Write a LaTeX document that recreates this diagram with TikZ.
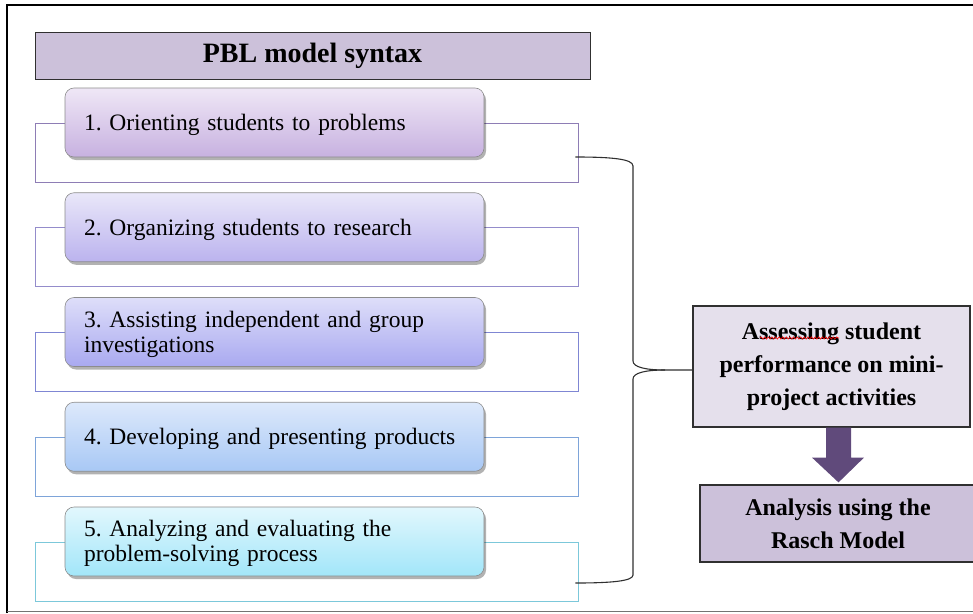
\documentclass[tikz,border=0pt]{standalone}
\usepackage{fontspec}
\setmainfont{Liberation Serif}
\usetikzlibrary{shadows,decorations.pathmorphing,calc}

% palette
\definecolor{titlefill}{HTML}{CCC1DA}
\definecolor{assessfill}{HTML}{E5E0EC}
\definecolor{arrowfill}{HTML}{604A7B}
\definecolor{edgedark}{HTML}{303030}
\definecolor{sAtop}{HTML}{EFE7F6}\definecolor{sAbot}{HTML}{C7B1E0}
\definecolor{sBtop}{HTML}{E9E7F9}\definecolor{sBbot}{HTML}{BBB3EE}
\definecolor{sCtop}{HTML}{DEDEF9}\definecolor{sCbot}{HTML}{A9A9F0}
\definecolor{sDtop}{HTML}{DDE9FB}\definecolor{sDbot}{HTML}{A8C8F5}
\definecolor{sEtop}{HTML}{E2F7FD}\definecolor{sEbot}{HTML}{A2E6F9}
\definecolor{rA}{HTML}{8E7DB5}
\definecolor{rB}{HTML}{948CCB}
\definecolor{rC}{HTML}{7F86D3}
\definecolor{rD}{HTML}{7EA4D9}
\definecolor{rE}{HTML}{7CC8DA}

% invisible strut that lowers the first line of a step a little
\newcommand\stepstrut{\rule{0pt}{21pt}}

\begin{document}
\frenchspacing
\hyphenpenalty=10000
\begin{tikzpicture}[x=1pt,y=-1pt,
  headbox/.style={draw=edgedark, line width=1pt, fill=titlefill,
    minimum width=555pt, minimum height=47pt, inner sep=0pt,
    font=\rmfamily\fontsize{28}{30}\selectfont\bfseries},
  framebox/.style={draw, line width=0.9pt, minimum width=543pt,
    minimum height=59pt, inner sep=0pt},
  stepbox/.style={rounded corners=9pt, draw=black!45, line width=0.6pt,
    minimum width=419pt, minimum height=69pt, inner xsep=19pt, inner ysep=0pt,
    text width=381pt, align=left,
    font=\rmfamily\fontsize{23.5}{25}\selectfont,
    drop shadow={shadow xshift=2pt, shadow yshift=-3pt, opacity=0.3, fill=black}},
  sidebox/.style={draw=edgedark, line width=1.2pt, inner sep=0pt,
    align=center, font=\rmfamily\fontsize{24}{33}\selectfont\bfseries},
  bracket/.style={draw=edgedark, line width=1.1pt}
]
\useasboundingbox (0,0) rectangle (973,613);

% outer frame
\draw[line width=1.8pt] (7,613) -- (7,5) -- (975,5);
\draw[black!55, line width=0.8pt] (7,611.5) -- (973,611.5);

% heading
\node[headbox] (head) at (312.5,55.5) {PBL model syntax};

% outline frames behind the steps
\node[framebox, draw=rA] (r1) at (306.5,152.5) {};
\node[framebox, draw=rB] (r2) at (306.5,257.25) {};
\node[framebox, draw=rC] (r3) at (306.5,362) {};
\node[framebox, draw=rD] (r4) at (306.5,466.75) {};
\node[framebox, draw=rE] (r5) at (306.5,571.5) {};

% the five steps
\node[stepbox, top color=sAtop, bottom color=sAbot] (s1) at (274.5,122.5)
  {\stepstrut 1. Orienting students to problems};
\node[stepbox, top color=sBtop, bottom color=sBbot] (s2) at (274.5,227.25)
  {\stepstrut 2. Organizing students to research};
\node[stepbox, top color=sCtop, bottom color=sCbot] (s3) at (274.5,332)
  {\stepstrut 3. Assisting independent and group\\investigations};
\node[stepbox, top color=sDtop, bottom color=sDbot] (s4) at (274.5,436.75)
  {\stepstrut 4. Developing and presenting products};
\node[stepbox, top color=sEtop, bottom color=sEbot] (s5) at (274.5,541.5)
  {\stepstrut 5. Analyzing and evaluating the\\problem-solving process};

% assessment and analysis
\node[sidebox, fill=assessfill, minimum width=277pt, minimum height=121pt]
  (assess) at (831.5,366.5)
  {Assessing student\\performance on mini-\\project activities};
\node[sidebox, fill=titlefill, minimum width=276pt, minimum height=77pt]
  (rasch) at (838,523.5)
  {Analysis using the\\Rasch Model};

% spell-check squiggle under the first word
\draw[red, line width=0.6pt, decorate,
  decoration={snake, amplitude=1.1pt, segment length=3.6pt}]
  (760,338) -- (839,338);

% curly bracket joining the steps to the assessment
\coordinate (btop) at ($(r1.east)+(-3,4.5)$);
\coordinate (bbot) at ($(r5.east)+(-3,11.5)$);
\coordinate (tip) at ($(assess.west)+(0,3.5)$);
\draw[bracket] (btop) .. controls (612,157) and (633,159) .. (633,166)
  -- (633,361) .. controls (633,367) and (645,370) .. (665,370) -- (tip);
\draw[bracket] (665,370) .. controls (645,370) and (633,373) .. (633,379)
  -- (633,575) .. controls (633,581) and (612,583) .. (bbot);

% block arrow from assessment down to analysis
\coordinate (arr) at ($(assess.south)+(7,0)$);
\fill[arrowfill] ($(arr)+(-12.5,0)$) -- ++(25,0) -- ++(0,30) -- ++(13,0)
  -- ($(rasch.north)+(0.5,-2)$) -- ($(arr)+(-26.5,30)$) -- ++(14,0) -- cycle;
\end{tikzpicture}
\end{document}
